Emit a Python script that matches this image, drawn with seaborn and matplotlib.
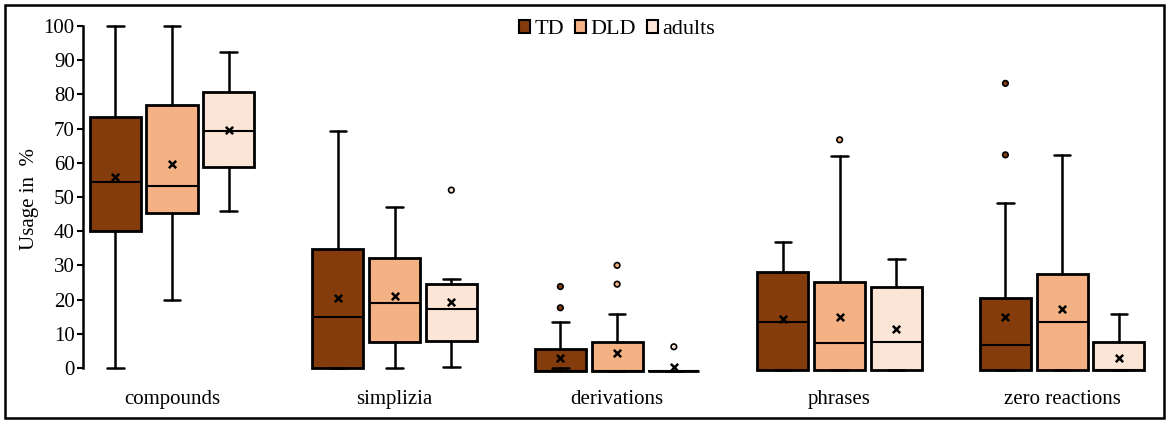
import numpy as np
import pandas as pd
import matplotlib
matplotlib.use("Agg")
import matplotlib.pyplot as plt
from matplotlib.patches import Patch, Rectangle
import seaborn as sns

# values (usage in %)
categories = ["compounds", "simplizia", "derivations", "phrases", "zero reactions"]
groups = ["TD", "DLD", "adults"]
colors = ["#843C0C", "#F4B183", "#FBE5D6"]

# one list per group, one value per category
td_whislo = [0, 0, 0, -0.5, -0.5]
td_q1 = [40.1, 0, -1, -0.5, -0.5]
td_med = [54.4, 14.8, -1, 13.5, 6.6]
td_q3 = [73.3, 34.7, 5.5, 28.0, 20.6]
td_whishi = [100, 69.3, 13.3, 36.9, 48.3]
td_mean = [55.8, 20.4, 2.8, 14.4, 15.0]
td_fliers = [[], [], [23.8, 17.6], [], [83.2, 62.3]]

dld_whislo = [20, 0, -1, -0.5, -0.5]
dld_q1 = [45.4, 7.7, -1, -0.5, -0.5]
dld_med = [53.2, 18.9, -1, 7.2, 13.5]
dld_q3 = [76.8, 32.1, 7.5, 25.1, 27.4]
dld_whishi = [100, 47.2, 15.7, 62.1, 62.3]
dld_mean = [59.5, 21.0, 4.5, 14.8, 17.2]
dld_fliers = [[], [], [30.0, 24.5], [66.7], []]

adl_whislo = [46.0, 0.2, -1, -0.5, -0.5]
adl_q1 = [58.7, 8.0, -1, -0.5, -0.5]
adl_med = [69.3, 17.3, -1, 7.6, -0.5]
adl_q3 = [80.7, 24.6, -1, 23.8, 7.6]
adl_whishi = [92.3, 26.0, -1, 31.8, 15.7]
adl_mean = [69.7, 19.4, 0.2, 11.3, 3.0]
adl_fliers = [[], [52.0], [6.2], [], []]

yticks = list(range(0, 101, 10))

series = {
    "TD": (td_whislo, td_q1, td_med, td_q3, td_whishi, td_mean, td_fliers),
    "DLD": (dld_whislo, dld_q1, dld_med, dld_q3, dld_whishi, dld_mean, dld_fliers),
    "adults": (adl_whislo, adl_q1, adl_med, adl_q3, adl_whishi, adl_mean, adl_fliers),
}

sns.set_theme(style="white")
plt.rcParams["font.family"] = ["Liberation Serif", "DejaVu Serif"]
plt.rcParams["text.color"] = "black"
plt.rcParams["axes.labelcolor"] = "black"
plt.rcParams["xtick.color"] = "black"
plt.rcParams["ytick.color"] = "black"

fig = plt.figure(figsize=(11.7, 4.24), dpi=100)
ax = fig.add_axes([0.071, 0.116, 0.9205, 0.831])

offsets = [-0.255, 0.0, 0.255]
width = 0.23
rows = []
for gi, g in enumerate(groups):
    lo, q1, med, q3, hi, mean, fl = series[g]
    stats = []
    pos = []
    for ci in range(len(categories)):
        stats.append(dict(whislo=lo[ci], q1=q1[ci], med=med[ci], q3=q3[ci],
                          whishi=hi[ci], fliers=[], label=""))
        pos.append(ci + offsets[gi])
        rows.append(dict(x=ci + offsets[gi], y=mean[ci], group=g, kind="mean"))
        for v in fl[ci]:
            rows.append(dict(x=ci + offsets[gi], y=v, group=g, kind="flier"))
    ax.bxp(stats, positions=pos, widths=width, patch_artist=True,
           showfliers=False, manage_ticks=False,
           boxprops=dict(facecolor=colors[gi], edgecolor="black", linewidth=2),
           medianprops=dict(color="black", linewidth=1.5),
           whiskerprops=dict(color="black", linewidth=1.8),
           capprops=dict(color="black", linewidth=1.8),
           capwidths=0.075)

df = pd.DataFrame(rows)
sns.scatterplot(data=df[df.kind == "mean"], x="x", y="y", marker="x", color="black",
                s=28, linewidth=1.8, ax=ax, legend=False, zorder=5)
sns.scatterplot(data=df[df.kind == "flier"], x="x", y="y", hue="group",
                palette=dict(zip(groups, colors)), s=16, edgecolor="black",
                linewidth=1.2, ax=ax, legend=False, zorder=5)

ax.set_xlim(-0.40, 4.44)
ax.set_ylim(-2, 101)
ax.set_yticks(yticks)
ax.set_yticklabels([str(t) for t in yticks], fontsize=15)
ax.set_xticks(range(len(categories)))
ax.set_xticklabels(categories, fontsize=15)
ax.tick_params(axis="x", length=0, pad=11)
ax.tick_params(axis="y", length=4, width=1.5, pad=2, left=True)
for s in ["top", "right", "bottom"]:
    ax.spines[s].set_visible(False)
ax.spines["left"].set_bounds(0, 100)
ax.spines["left"].set_linewidth(1.8)
ax.spines["left"].set_color("black")
ax.set_xlabel("")
ax.set_ylabel("Usage in  %", fontsize=15)
ax.yaxis.set_label_coords(-0.041, 0.5)

handles = [Patch(facecolor=c, edgecolor="black", linewidth=1.5, label=g)
           for g, c in zip(groups, colors)]
ax.legend(handles=handles, loc="center", bbox_to_anchor=(0.4958, 0.979), ncol=3,
          frameon=False, fontsize=16, handlelength=0.5, handleheight=0.5,
          handletextpad=0.2, columnspacing=0.5, borderaxespad=0, borderpad=0)

fig.patches.append(Rectangle((0.004, 0.014), 0.991, 0.974, transform=fig.transFigure,
                             fill=False, edgecolor="black", linewidth=1.8))

fig.savefig("out.png", dpi=100)
